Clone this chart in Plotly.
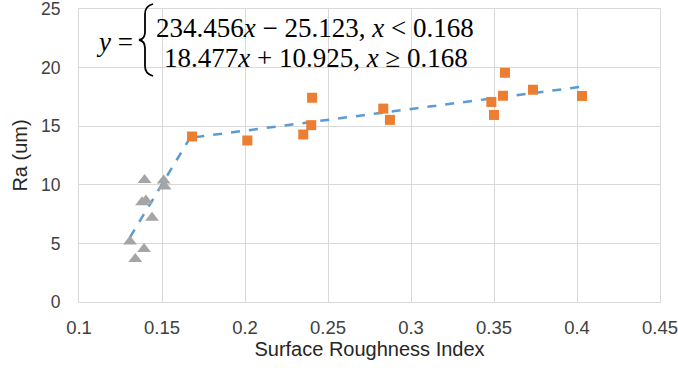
import plotly.graph_objects as go

# Data
tri_x = [0.1395, 0.1510, 0.1516, 0.1380, 0.1403, 0.1440, 0.1307, 0.1392, 0.1339]
tri_y = [10.42, 10.36, 9.85, 8.51, 8.66, 7.19, 5.17, 4.52, 3.67]

sq_x = [0.1681, 0.2014, 0.2404, 0.2351, 0.2399, 0.2833, 0.2873, 0.3484, 0.3500, 0.3566, 0.3554, 0.3735, 0.4030]
sq_y = [14.12, 13.78, 17.43, 14.29, 15.09, 16.50, 15.54, 17.07, 15.96, 19.56, 17.60, 18.11, 17.58]

# Piecewise fit shown on the chart
low_slope, low_icpt = 234.456, -25.123
high_slope, high_icpt = 18.477, 10.925
breakpoint = 0.168
fit_x_low = [0.1307, breakpoint]
fit_x_high = [breakpoint, 0.404]

fit_x = fit_x_low + fit_x_high
fit_y = [low_slope * v + low_icpt for v in fit_x_low] + [high_slope * v + high_icpt for v in fit_x_high]

x_ticks = [0.1, 0.15, 0.2, 0.25, 0.3, 0.35, 0.4, 0.45]
y_ticks = [0, 5, 10, 15, 20, 25]

# layout geometry (pixels)
W, H = 678, 371
ML, MR, MT, MB = 79, 18, 9, 69
PW, PH = W - ML - MR, H - MT - MB


def px(xp):
    return (xp - ML) / PW


def py(yp):
    return 1 - (yp - MT) / PH


fig = go.Figure()
fig.add_trace(go.Scatter(x=fit_x, y=fit_y, mode="lines",
                         line=dict(color="#5B9BD5", width=2.5, dash="dash"),
                         showlegend=False, hoverinfo="skip"))
fig.add_trace(go.Scatter(x=tri_x, y=tri_y, mode="markers",
                         marker=dict(symbol="triangle-up", size=12, color="#A5A5A5"),
                         showlegend=False))
fig.add_trace(go.Scatter(x=sq_x, y=sq_y, mode="markers",
                         marker=dict(symbol="square", size=10, color="#ED7D31"),
                         showlegend=False))

grid = "#D9D9D9"
xtickfont = dict(family="Liberation Sans, Arial", size=18.5, color="#404040")
ytickfont = dict(family="Liberation Sans, Arial", size=17.5, color="#404040")
titlefont = dict(family="Liberation Sans, Arial", size=20, color="#262626")
fig.update_xaxes(range=[0.1, 0.45], tickvals=x_ticks, ticktext=[str(t) for t in x_ticks],
                 showgrid=True, gridcolor=grid, gridwidth=1,
                 showline=True, linecolor=grid, mirror=True, zeroline=False,
                 tickfont=xtickfont, ticks="outside", ticklen=9, tickcolor="rgba(0,0,0,0)",
                 ticklabeloverflow="allow", automargin=False,
                 title=dict(text="Surface Roughness Index", font=titlefont, standoff=4))
fig.update_yaxes(range=[0, 25], tickvals=y_ticks,
                 showgrid=True, gridcolor=grid, gridwidth=1,
                 showline=True, linecolor=grid, mirror=True, zeroline=False,
                 tickfont=ytickfont, ticks="outside", ticklen=14, tickcolor="rgba(0,0,0,0)",
                 ticklabeloverflow="allow", automargin=False,
                 title=dict(text="Ra (um)", font=titlefont, standoff=8))

eqfont = dict(family="Liberation Serif, DejaVu Serif", size=27, color="#000000")
fig.add_annotation(xref="paper", yref="paper", x=px(114), y=py(42),
                   text="<i>y</i> =", showarrow=False, font=eqfont, xanchor="center", yanchor="middle")
fig.add_annotation(xref="paper", yref="paper", x=px(154), y=py(28),
                   text="234.456<i>x</i> − 25.123, <i>x</i> < 0.168", showarrow=False, font=eqfont,
                   xanchor="left", yanchor="middle")
fig.add_annotation(xref="paper", yref="paper", x=px(162), y=py(58),
                   text="18.477<i>x</i> + 10.925, <i>x</i> ≥ 0.168", showarrow=False, font=eqfont,
                   xanchor="left", yanchor="middle")

# curly brace of the piecewise equation
brace_pts = [(153, 4), (145, 6), (145, 14), (145, 32), (145, 39), (139, 40),
             (145, 41), (145, 48), (145, 66), (145, 74), (153, 76)]
b = [(px(a), py(c)) for a, c in brace_pts]
path = (f"M {b[0][0]},{b[0][1]} Q {b[1][0]},{b[1][1]} {b[2][0]},{b[2][1]} "
        f"L {b[3][0]},{b[3][1]} Q {b[4][0]},{b[4][1]} {b[5][0]},{b[5][1]} "
        f"Q {b[6][0]},{b[6][1]} {b[7][0]},{b[7][1]} L {b[8][0]},{b[8][1]} "
        f"Q {b[9][0]},{b[9][1]} {b[10][0]},{b[10][1]}")
fig.add_shape(type="path", xref="paper", yref="paper", path=path,
              line=dict(color="#000000", width=1.8))

fig.update_layout(width=W, height=H, margin=dict(l=ML, r=MR, t=MT, b=MB, autoexpand=False),
                  plot_bgcolor="white", paper_bgcolor="white")

fig.write_html("out.html")
